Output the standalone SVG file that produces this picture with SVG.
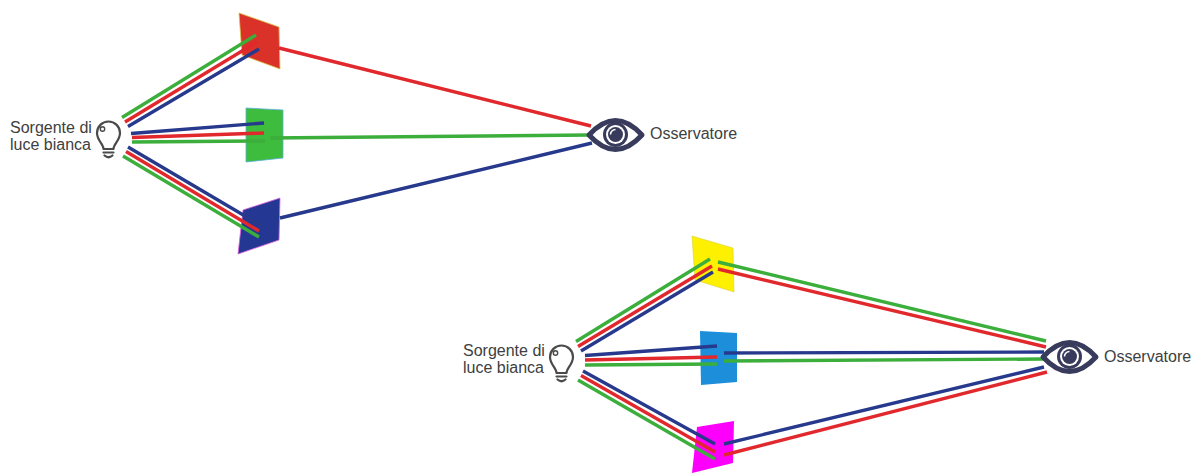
<svg xmlns="http://www.w3.org/2000/svg" width="1197" height="474" viewBox="0 0 1197 474">
<defs>
<style>
.lbl{font-family:"Liberation Sans",Arial,sans-serif;font-size:16px;fill:#404040}
.r{stroke:#e1282c;stroke-width:3.4;fill:none}
.g{stroke:#3bae3b;stroke-width:3.4;fill:none}
.b{stroke:#27398c;stroke-width:3.4;fill:none}
.bulb{fill:#fff;stroke:#4a4a4a;stroke-width:2.2;stroke-linejoin:round;stroke-linecap:round}
.eyeo{fill:#fff;stroke:#393b5c;stroke-width:5;stroke-linejoin:round}
.dark{fill:#393b5c}
</style>
<g id="bulbShape">
<path class="bulb" d="M103.5,149 C103.5,144 97,140.5 97,133 A11.5 11.5 0 1 1 120,133 C120,140.5 113.5,144 113.5,149 Z"/>
<path class="bulb" d="M103.5,152.5 L113.5,152.5 M104.5,155.5 Q108.5,159 112.5,155.5"/>
<circle cx="102.5" cy="129" r="2.2" fill="none" stroke="#4a4a4a" stroke-width="1.4"/>
</g>
<g id="eyeShape">
<path class="eyeo" d="M589,135 Q615.5,106 642,135 Q615.5,164 589,135 Z"/>
<circle class="dark" cx="615.5" cy="134.5" r="12.5"/>
<circle cx="615.5" cy="134.5" r="9.5" fill="#fff"/>
<circle class="dark" cx="615.5" cy="134.5" r="7.5"/>
<path d="M610.5,134.5 A5 5 0 0 1 615.5,129.5" fill="none" stroke="#fff" stroke-width="1.6"/>
</g>
</defs>
<rect width="1197" height="474" fill="#fff"/>

<g id="panel-red"><polygon points="239,13 279,27 280,69 242,55" fill="#da3129" stroke="#d8c44a" stroke-width="0.8"/></g>
<g id="panel-green"><polygon points="246,108 283,110 283,158 246,162" fill="#3dbc3d" stroke="#5ab0d8" stroke-width="0.8"/></g>
<g id="panel-blue"><polygon points="243,210 280,198 279,240 238,254" fill="#243893" stroke="#e060e0" stroke-width="0.8"/></g>
<g id="panel-yellow"><polygon points="692,236 733,248 734,292 695,280" fill="#fdf000" stroke="#d8d040" stroke-width="0.6"/></g>
<g id="panel-cyan"><polygon points="700,331 737,333 737,382 701,385" fill="#1d8fda"/></g>
<g id="panel-magenta"><polygon points="697,427 734,421 733,463 692,473" fill="#fc00fc"/></g>

<g id="connectors">
<line class="g" x1="122" y1="117.5" x2="256" y2="35"/>
<line class="r" x1="125" y1="122" x2="257" y2="42"/>
<line class="b" x1="128" y1="126.5" x2="259" y2="49"/>
<line class="b" x1="131" y1="133.5" x2="264" y2="123"/>
<line class="r" x1="132" y1="137.5" x2="264" y2="133"/>
<line class="g" x1="132" y1="142" x2="265" y2="141"/>
<line class="b" x1="128" y1="147" x2="262" y2="226"/>
<line class="r" x1="126" y1="151.5" x2="259" y2="231"/>
<line class="g" x1="123" y1="156" x2="259" y2="237"/>
<line class="r" x1="279" y1="48" x2="591" y2="126"/>
<line class="g" x1="270" y1="138" x2="590" y2="135"/>
<line class="b" x1="280" y1="218" x2="592" y2="143"/>
<line class="g" x1="576" y1="341.5" x2="710" y2="259"/>
<line class="r" x1="578" y1="346.5" x2="712" y2="266"/>
<line class="b" x1="581" y1="351" x2="713" y2="272"/>
<line class="b" x1="585" y1="355.5" x2="717" y2="346"/>
<line class="r" x1="585" y1="360" x2="717" y2="357"/>
<line class="g" x1="585" y1="365" x2="717" y2="364"/>
<line class="b" x1="583" y1="371" x2="715" y2="444"/>
<line class="r" x1="581" y1="375.5" x2="715" y2="452"/>
<line class="g" x1="578" y1="380" x2="715" y2="459"/>
<line class="g" x1="718" y1="262" x2="1046" y2="341"/>
<line class="r" x1="718" y1="269" x2="1046" y2="347"/>
<line class="b" x1="724" y1="353" x2="1044" y2="352"/>
<line class="g" x1="724" y1="361" x2="1044" y2="359"/>
<line class="b" x1="724" y1="444" x2="1044" y2="367"/>
<line class="r" x1="724" y1="455" x2="1047" y2="372"/>
</g>

<g id="source-top">
<use href="#bulbShape"/>
<text class="lbl" x="10" y="133">Sorgente di</text>
<text class="lbl" x="10" y="150">luce bianca</text>
</g>
<g id="source-bottom">
<use href="#bulbShape" transform="translate(453,224)"/>
<text class="lbl" x="463" y="356">Sorgente di</text>
<text class="lbl" x="463" y="373">luce bianca</text>
</g>
<g id="observer-top">
<use href="#eyeShape"/>
<text class="lbl" x="650" y="139">Osservatore</text>
</g>
<g id="observer-bottom">
<use href="#eyeShape" transform="translate(454,222)"/>
<text class="lbl" x="1104" y="362">Osservatore</text>
</g>
</svg>
